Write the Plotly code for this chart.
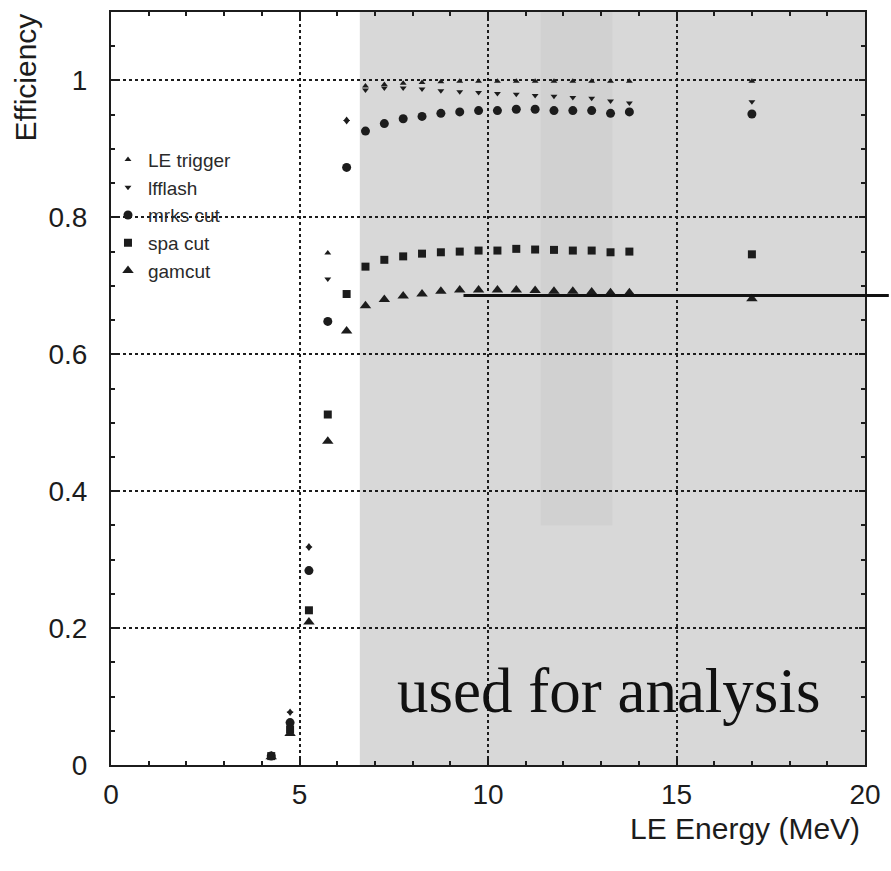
import plotly.graph_objects as go

# ---- data ----
energy = [4.25, 4.75, 5.25, 5.75, 6.25, 6.75, 7.25, 7.75, 8.25, 8.75, 9.25, 9.75,
          10.25, 10.75, 11.25, 11.75, 12.25, 12.75, 13.25, 13.75, 17.0]

le_trigger = [0.016, 0.078, 0.320, 0.748, 0.943, 0.992, 0.994, 0.996, 0.997, 0.998, 0.999,
              0.999, 0.999, 0.999, 0.999, 0.999, 0.999, 0.999, 0.999, 0.999, 0.999]
lfflash = [0.014, 0.076, 0.317, 0.710, 0.940, 0.986, 0.989, 0.989, 0.9875, 0.985, 0.9835,
           0.9825, 0.981, 0.980, 0.978, 0.977, 0.975, 0.974, 0.970, 0.967, 0.969]
mrks_cut = [0.013, 0.062, 0.284, 0.648, 0.873, 0.926, 0.937, 0.944, 0.9475, 0.952, 0.954,
            0.956, 0.956, 0.958, 0.958, 0.956, 0.956, 0.956, 0.952, 0.954, 0.951]
spa_cut = [0.013, 0.052, 0.226, 0.512, 0.688, 0.728, 0.738, 0.743, 0.747, 0.749, 0.750,
           0.7515, 0.7515, 0.754, 0.753, 0.7525, 0.7515, 0.7515, 0.749, 0.750, 0.746]
gamcut = [0.012, 0.046, 0.209, 0.473, 0.634, 0.671, 0.680, 0.685, 0.688, 0.692, 0.694,
          0.694, 0.694, 0.694, 0.693, 0.692, 0.692, 0.691, 0.690, 0.690, 0.681]

series_names = ["LE trigger", "lfflash", "mrks cut", "spa cut", "gamcut"]
series_values = [le_trigger, lfflash, mrks_cut, spa_cut, gamcut]
series_symbols = ["triangle-up", "triangle-down", "circle", "square", "triangle-up"]
series_sizes = [6, 6, 9, 8, 10]

x_ticks = [0, 5, 10, 15, 20]
y_ticks = [0, 0.2, 0.4, 0.6, 0.8, 1.0]
y_ticklabels = ["0", "0.2", "0.4", "0.6", "0.8", "1"]

analysis_start = 6.6      # start of shaded "used for analysis" region
reference_level = 0.686   # black horizontal line
line_start = 9.35

INK = "#1c1c1c"
FONT = "Liberation Sans"

fig = go.Figure()
for name, vals, sym, sz in zip(series_names, series_values, series_symbols, series_sizes):
    fig.add_trace(go.Scatter(
        x=energy, y=vals, mode="markers", name=name,
        marker=dict(symbol=sym, size=sz, color=INK, line=dict(width=0)),
    ))

# shaded region (slightly uneven like a photocopy)
shade = [
    (analysis_start, 20, 0, 1.1, "#d8d8d8"),
    (11.4, 13.3, 0.35, 1.1, "#d1d1d1"),
]
for x0, x1, y0, y1, c in shade:
    fig.add_shape(type="rect", xref="x", yref="y", x0=x0, x1=x1, y0=y0, y1=y1,
                  fillcolor=c, line=dict(width=0), layer="below")

# black line extending beyond the right edge
fig.add_shape(type="line", xref="paper", yref="y",
              x0=line_start / 20, x1=(895 - 111) / 760, y0=reference_level, y1=reference_level,
              line=dict(color="#111", width=3), layer="above")

fig.add_annotation(text="used for analysis", x=13.2, y=0.108, xref="x", yref="y",
                   showarrow=False, xanchor="center", yanchor="middle",
                   font=dict(family="Liberation Serif", size=63, color="#111"))

fig.add_annotation(text="Efficiency", textangle=-90, xref="paper", yref="paper",
                   x=(25 - 111) / 760, y=(765 - 76) / 755, xanchor="center", yanchor="middle",
                   showarrow=False, font=dict(family=FONT, size=30, color=INK))

fig.add_annotation(text="LE Energy (MeV)", xref="paper", yref="paper",
                   x=(868 - 111) / 760, y=(765 - 829) / 755, xanchor="right", yanchor="middle",
                   showarrow=False, font=dict(family=FONT, size=30, color=INK))

axis_common = dict(
    showline=True, mirror="allticks", linecolor=INK, linewidth=2,
    ticks="inside", ticklen=6, tickwidth=1.5, tickcolor=INK,
    showgrid=True, gridcolor=INK, griddash="dot", gridwidth=1.5,
    zeroline=False,
    tickfont=dict(family=FONT, size=28, color=INK),
)

fig.update_xaxes(range=[0, 20], tickvals=x_ticks,
                 minor=dict(dtick=1, ticks="inside", ticklen=4, tickcolor=INK, showgrid=False),
                 ticklabelstandoff=3, **axis_common)
fig.update_yaxes(range=[0, 1.1], tickvals=y_ticks, ticktext=y_ticklabels,
                 minor=dict(dtick=0.05, ticks="inside", ticklen=4, tickcolor=INK, showgrid=False),
                 ticklabelstandoff=16, **axis_common)

fig.update_layout(
    width=891, height=871,
    margin=dict(l=111, r=20, t=10, b=106),
    paper_bgcolor="white", plot_bgcolor="white",
    showlegend=True,
    legend=dict(x=-0.004, y=0.829, xanchor="left", yanchor="top",
                bgcolor="rgba(0,0,0,0)", borderwidth=0,
                font=dict(family=FONT, size=19, color="#2a2a2a"),
                itemsizing="trace"),
)

fig.write_html("out.html")
